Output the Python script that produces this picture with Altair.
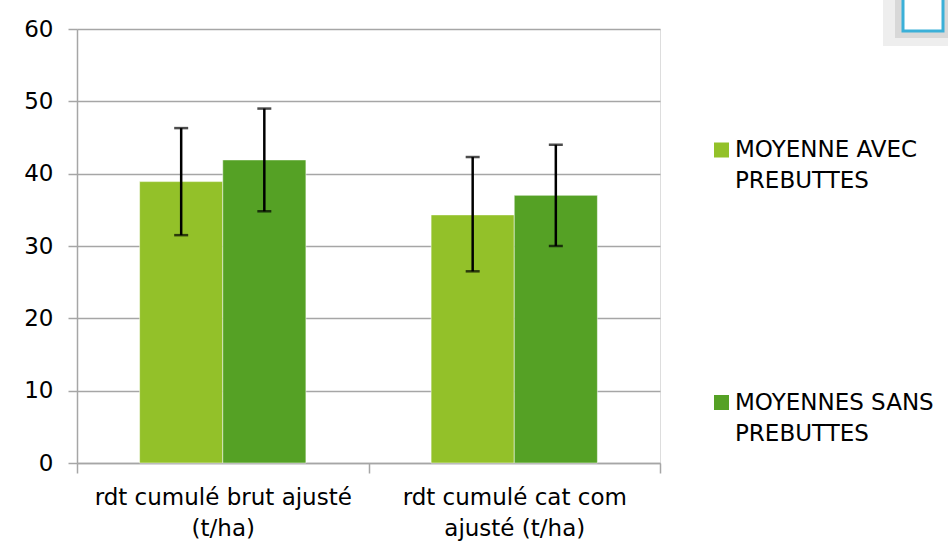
import altair as alt
import pandas as pd

categories = ["rdt cumulé brut ajusté\n(t/ha)", "rdt cumulé cat com\najusté (t/ha)"]
series = ["MOYENNE AVEC PREBUTTES", "MOYENNES SANS PREBUTTES"]
legend_lines = [["MOYENNE AVEC", "PREBUTTES"], ["MOYENNES SANS", "PREBUTTES"]]
avec_values = [38.9, 34.3]
sans_values = [41.9, 37.0]
avec_low = [31.5, 26.5]
avec_high = [46.3, 42.3]
sans_low = [34.8, 30.0]
sans_high = [49.0, 44.0]
colors = ["#93C129", "#55A125"]
y_ticks = [0, 10, 20, 30, 40, 50, 60]

rows = []
for i, c in enumerate(categories):
    rows.append({"cat": c, "series": series[0], "value": avec_values[i],
                 "low": avec_low[i], "high": avec_high[i]})
    rows.append({"cat": c, "series": series[1], "value": sans_values[i],
                 "low": sans_low[i], "high": sans_high[i]})
df = pd.DataFrame(rows)

FONT = "DejaVu Sans"
FS = 23
GRID = "#a6a6a6"

color_scale = alt.Scale(domain=series, range=colors)

x_enc = alt.X("cat:N", sort=categories,
              scale=alt.Scale(paddingInner=0, paddingOuter=0),
              axis=alt.Axis(title=None, labelAngle=0, tickBand="extent",
                            labelExpr="split(datum.label, '\\n')",
                            labelFont=FONT, labelFontSize=FS, labelColor="black",
                            labelLineHeight=31, labelPadding=13, labelLimit=0,
                            tickSize=10, tickColor=GRID, tickWidth=1.5,
                            domainColor=GRID, domainWidth=1.5, grid=False))
xo_enc = alt.XOffset("series:N", sort=series,
                     scale=alt.Scale(paddingInner=0, paddingOuter=0.753))

base = alt.Chart(df).encode(x=x_enc, xOffset=xo_enc)

bars = base.mark_bar(stroke="white", strokeWidth=0.5).encode(
    y=alt.Y("value:Q", scale=alt.Scale(domain=[0, 60], nice=False),
            axis=alt.Axis(title=None, values=y_ticks, grid=True,
                          gridColor=GRID, gridWidth=1.5,
                          domainColor=GRID, domainWidth=1.5,
                          tickColor=GRID, tickWidth=1.5, tickSize=9,
                          labelFont=FONT, labelFontSize=FS, labelColor="black",
                          labelPadding=15)),
    color=alt.Color("series:N", scale=color_scale, legend=None),
)

err = base.mark_rule(color="black", strokeWidth=2.5).encode(
    y="low:Q", y2="high:Q")
cap_lo = base.mark_tick(color="black", size=14, thickness=2.5, orient="horizontal").encode(y="low:Q")
cap_hi = base.mark_tick(color="black", size=14, thickness=2.5, orient="horizontal").encode(y="high:Q")

leg_df = pd.DataFrame({"series": series})
leg_layers = []
sq_y = [121, 373.5]
for k in range(2):
    d = leg_df.iloc[[k]]
    leg_layers.append(
        alt.Chart(d).mark_square(size=225, opacity=1).encode(
            x=alt.value(644.5), y=alt.value(sq_y[k]),
            color=alt.Color("series:N", scale=color_scale, legend=None))
    )
    for j, line in enumerate(legend_lines[k]):
        leg_layers.append(
            alt.Chart(pd.DataFrame({"t": [line]})).mark_text(
                align="left", baseline="middle", font=FONT, fontSize=FS, color="black"
            ).encode(x=alt.value(658), y=alt.value(sq_y[k] + j * 31), text="t:N")
        )

# decorative framed box cut off in the top-right corner of the reference
deco_df = pd.DataFrame({"k": [0]})
shadow_outer = alt.Chart(deco_df).mark_rect(color="#eeeeee").encode(
    x=alt.value(806), x2=alt.value(871), y=alt.value(-29), y2=alt.value(17))
shadow = alt.Chart(deco_df).mark_rect(color="#d8d8d8").encode(
    x=alt.value(818), x2=alt.value(871), y=alt.value(-29), y2=alt.value(9))
frame = alt.Chart(deco_df).mark_rect(fill="white", stroke="#3bb0d8", strokeWidth=3).encode(
    x=alt.value(826), x2=alt.value(866), y=alt.value(-35), y2=alt.value(2))

chart = alt.layer(bars, err, cap_lo, cap_hi, *leg_layers,
                  shadow_outer, shadow, frame).properties(
    width=583, height=434,
    autosize=alt.AutoSizeParams(type="none"),
    padding={"left": 77, "top": 29, "right": 288, "bottom": 86},
).configure_view(stroke=None).configure(background="white")

chart.save("out.html", embed_options={"renderer": "svg", "actions": False})
